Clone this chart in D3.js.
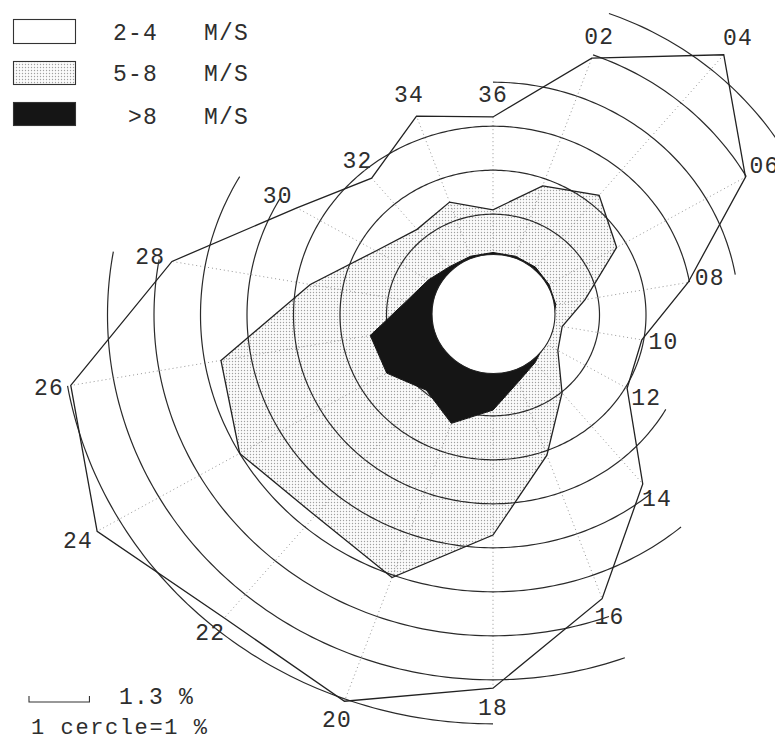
<!DOCTYPE html>
<html>
<head>
<meta charset="utf-8">
<script src="https://cdn.jsdelivr.net/npm/d3@7"></script>
<style>
  html, body { margin: 0; padding: 0; background: #fff; }
  svg { display: block; }
  text { font-family: "Liberation Mono", "DejaVu Sans Mono", monospace; fill: #2e2e2e; }
</style>
</head>
<body>
<svg id="rose" width="775" height="742"></svg>
<script>
// Direction sectors (tens of degrees), every 20 degrees
const directions = ["02", "04", "06", "08", "10", "12", "14", "16", "18",
                    "20", "22", "24", "26", "28", "30", "32", "34", "36"];
const directionCodes = [2, 4, 6, 8, 10, 12, 14, 16, 18, 20, 22, 24, 26, 28, 30, 32, 34, 36];

// Cumulative frequency (%) per direction, outermost class first
const cum2to4 = [4.92, 6.43, 4.98, 2.97, 1.96, 2.04, 3.72, 5.57, 7.19,
                 8.05, 7.70, 8.54, 7.93, 5.72, 3.58, 2.77, 3.52, 3.21];
const cum5to8 = [1.83, 2.26, 1.78, 0.72, 0.22, 0.32, 1.02, 2.10, 3.71,
                 5.06, 4.66, 5.00, 4.65, 2.70, 1.62, 1.25, 1.44, 1.10];
const over8   = [0.13, 0.13, 0.10, 0.08, 0.00, 0.00, 0.12, 0.32, 0.87,
                 1.33, 0.94, 1.35, 1.39, 0.59, 0.31, 0.15, 0.13, 0.13];

// Reference circles, one per percent
const ringLevels = [1, 2, 3, 4, 5, 6, 7, 8];

// Legend classes and the scale bar
const legendLabels = ["2-4", "5-8", ">8"];
const legendUnit = "M/S";
const scaleBarValue = 1.3;
const scaleBarLabel = "1.3 %";
const circleNote = "1 cercle=1 %";

const svg = d3.select("#rose");
const cx = 493, cy = 315;

// Radial scales (horizontal and vertical radius of a given percentage)
const rx = d3.scaleLinear().domain([0, 1]).range([60, 106.5]);
const ry = d3.scaleLinear().domain([0, 1]).range([56.8, 100.8]);
// Direction code (tens of degrees) to angle in radians, clockwise from north
const angle = d3.scaleLinear().domain([0, 36]).range([0, 2 * Math.PI]);

function pt(pct, code) {
  const a = angle(code);
  return [cx + rx(pct) * Math.sin(a), cy - ry(pct) * Math.cos(a)];
}

// Stipple pattern for the 5-8 m/s class
const defs = svg.append("defs");
const pat = defs.append("pattern")
  .attr("id", "stipple").attr("patternUnits", "userSpaceOnUse")
  .attr("width", 3).attr("height", 3);
pat.append("rect").attr("width", 3).attr("height", 3).attr("fill", "#fbfbfb");
pat.append("circle").attr("cx", 1.5).attr("cy", 1.5).attr("r", 0.7).attr("fill", "#a0a0a0");

const closed = d3.line().curve(d3.curveLinearClosed);
const open = d3.line();

const poly = vals => closed(vals.map((v, i) => pt(v, directionCodes[i])));

const gPlot = svg.append("g");

// stippled area
gPlot.append("path").attr("d", poly(cum5to8)).attr("fill", "url(#stipple)").attr("stroke", "none");

// radial dotted guides out to the outer polygon
gPlot.append("g").selectAll("path").data(directionCodes).join("path")
  .attr("d", (c, i) => open([pt(0, c), pt(cum2to4[i], c)]))
  .attr("stroke", "#8a8a8a").attr("stroke-width", 0.9)
  .attr("stroke-dasharray", "1 3").attr("fill", "none");

// percentage circles: each 20-degree arc drawn where the rose reaches beyond it
const arcs = [];
ringLevels.forEach(k => {
  directionCodes.forEach((c, i) => {
    const j = (i + 1) % directionCodes.length;
    if (Math.max(cum2to4[i], cum2to4[j]) > k) {
      const pts = d3.range(0, 21).map(s => pt(k, c + s / 10));
      arcs.push(pts);
    }
  });
});
gPlot.append("g").selectAll("path").data(arcs).join("path")
  .attr("d", d => open(d))
  .attr("fill", "none").attr("stroke", "#2a2a2a").attr("stroke-width", 1.2);

// class outlines
gPlot.append("path").attr("d", poly(cum2to4)).attr("fill", "none")
  .attr("stroke", "#222").attr("stroke-width", 1.3).attr("stroke-linejoin", "miter");
gPlot.append("path").attr("d", poly(cum5to8)).attr("fill", "none")
  .attr("stroke", "#222").attr("stroke-width", 1.3);

// strongest class
gPlot.append("path").attr("d", poly(over8)).attr("fill", "#151515").attr("stroke", "#151515").attr("stroke-width", 1);

// calm circle
gPlot.append("ellipse").attr("cx", cx + 0.5).attr("cy", cy - 1)
  .attr("rx", rx(0) + 1.5).attr("ry", ry(0) + 2.7)
  .attr("fill", "#fff").attr("stroke", "#222").attr("stroke-width", 1.1);

// direction labels placed beyond the outer polygon
svg.append("g").selectAll("text").data(directions).join("text")
  .attr("x", (d, i) => cx + (rx(cum2to4[i]) + 22) * Math.sin(angle(directionCodes[i])))
  .attr("y", (d, i) => cy - (ry(cum2to4[i]) + 21) * Math.cos(angle(directionCodes[i])))
  .attr("text-anchor", "middle").attr("dominant-baseline", "central")
  .attr("font-size", 23).attr("letter-spacing", 1.2)
  .text(d => d);

// legend
const legend = svg.append("g");
const boxes = [{y: 19, h: 24, fill: "#fff"}, {y: 61, h: 23, fill: "url(#stipple)"}, {y: 102, h: 23, fill: "#151515"}];
const baselines = [40, 81, 124];
legend.selectAll("rect").data(boxes).join("rect")
  .attr("x", 13.5).attr("y", d => d.y + 0.5).attr("width", 62).attr("height", d => d.h)
  .attr("fill", d => d.fill).attr("stroke", "#333").attr("stroke-width", 1.1);
legend.selectAll("text.cls").data(legendLabels).join("text").attr("class", "cls")
  .attr("x", 158).attr("y", (d, i) => baselines[i])
  .attr("text-anchor", "end").attr("font-size", 23).attr("letter-spacing", 1.2)
  .text(d => d);
legend.selectAll("text.unit").data(legendLabels).join("text").attr("class", "unit")
  .attr("x", 204).attr("y", (d, i) => baselines[i])
  .attr("font-size", 23).attr("letter-spacing", 1.2)
  .text(legendUnit);

// scale bar
const barLen = rx(scaleBarValue) - rx(0);
svg.append("path")
  .attr("d", open([[29, 696], [29, 702], [29 + barLen, 702], [29 + barLen, 696]]))
  .attr("fill", "none").attr("stroke", "#333").attr("stroke-width", 1.1);
svg.append("text").attr("x", 119).attr("y", 704).attr("font-size", 23).attr("letter-spacing", 1.2).text(scaleBarLabel);
svg.append("text").attr("x", 31).attr("y", 734).attr("font-size", 22).attr("letter-spacing", 1.6).text(circleNote);
</script>
</body>
</html>
